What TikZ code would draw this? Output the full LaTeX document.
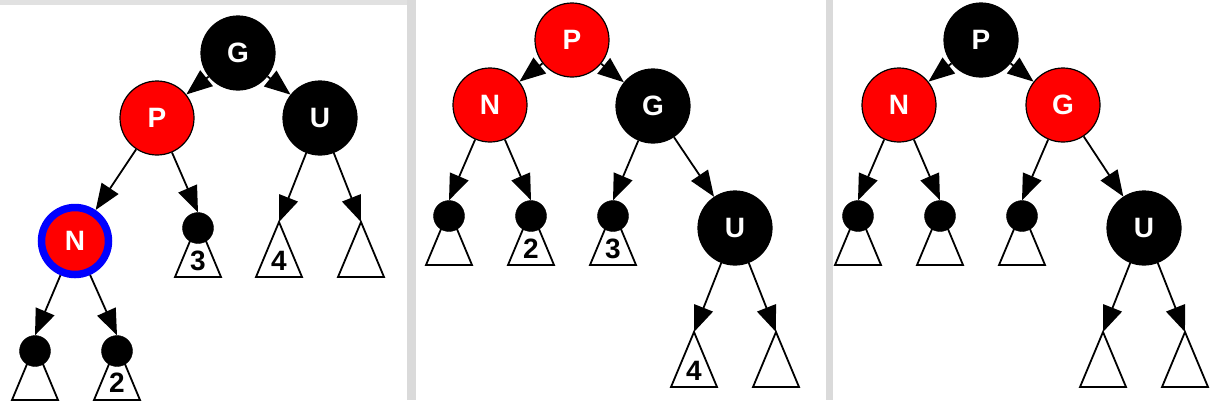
\documentclass[tikz,border=0pt]{standalone}
\usepackage{fontspec}
\setsansfont{Liberation Sans}
\usetikzlibrary{arrows.meta}
\definecolor{rbred}{RGB}{255,0,0}
\definecolor{rbblue}{RGB}{0,0,255}
\definecolor{bordergray}{RGB}{218,218,218}
\tikzset{
  rbnode/.style={circle, draw=black, line width=1.2pt, minimum size=74pt, inner sep=0pt,
     text=white, font=\sffamily\bfseries\fontsize{28}{28}\selectfont},
  blacknode/.style={rbnode, fill=black},
  rednode/.style={rbnode, fill=rbred},
  newnode/.style={circle, draw=rbblue, line width=7.5pt, fill=rbred, minimum size=67pt, inner sep=0pt,
     text=white, font=\sffamily\bfseries\fontsize{28}{28}\selectfont},
  leafdot/.style={circle, fill=black, draw=black, minimum size=31pt, inner sep=0pt},
  edge/.style={line width=1.8pt, -{Triangle[length=26pt,width=20pt]}},
  tri/.style={draw=black, line width=1.8pt, fill=white, line join=miter},
  trilabel/.style={font=\sffamily\bfseries\fontsize{28}{28}\selectfont, text=black, inner sep=0pt},
  subtree/.pic={\draw[tri] (0,0) -- (-23,55) -- (23,55) -- cycle;}
}
\begin{document}
\begin{tikzpicture}[x=1pt,y=-1pt]
\useasboundingbox (0,0) rectangle (1212,400);
\clip (0,0) rectangle (1212,400);
% panel borders
\fill[bordergray!80] (0,0) rectangle (407,5);
\fill[bordergray] (407,0) rectangle (416,400);
\fill[bordergray] (826,0) rectangle (833,400);

% ---------- panel 1 ----------
\node[blacknode] (aG) at (238,53) {G};
\node[rednode] (aP) at (157,118) {P};
\node[blacknode] (aU) at (320,118) {U};
\node[newnode] (aN) at (75,241) {N};
\pic at (198,222) {subtree};
\node[leafdot] (a3) at (198,228) {};
\node[trilabel] (a3l) at (198,261) {3};
\coordinate (a4) at (279,222);
\pic at (a4) {subtree};
\node[trilabel] (a4l) at (279,261) {4};
\coordinate (a5) at (361,222);
\pic at (a5) {subtree};
\pic at (35,345) {subtree};
\node[leafdot] (a1) at (35,351) {};
\pic at (117,345) {subtree};
\node[leafdot] (a2) at (117,351) {};
\node[trilabel] (a2l) at (117,383) {2};
\draw[edge] (aG) -- (aP);
\draw[edge] (aG) -- (aU);
\draw[edge] (aP) -- (aN);
\draw[edge] (aP) -- (a3.north);
\draw[edge] (aU) -- (a4);
\draw[edge] (aU) -- (a5);
\draw[edge] (aN) -- (a1.north);
\draw[edge] (aN) -- (a2.north);

% ---------- panel 2 ----------
\node[rednode] (bP) at (572,40) {P};
\node[rednode] (bN) at (490,105) {N};
\node[blacknode] (bG) at (653,106) {G};
\node[blacknode] (bU) at (735,228) {U};
\pic at (449,210) {subtree};
\node[leafdot] (b1) at (449,216) {};
\pic at (531,210) {subtree};
\node[leafdot] (b2) at (531,216) {};
\node[trilabel] (b2l) at (531,249) {2};
\pic at (613,210) {subtree};
\node[leafdot] (b3) at (613,216) {};
\node[trilabel] (b3l) at (613,249) {3};
\coordinate (b4) at (694,332);
\pic at (b4) {subtree};
\node[trilabel] (b4l) at (694,371) {4};
\coordinate (b5) at (776,332);
\pic at (b5) {subtree};
\draw[edge] (bP) -- (bN);
\draw[edge] (bP) -- (bG);
\draw[edge] (bN) -- (b1.north);
\draw[edge] (bN) -- (b2.north);
\draw[edge] (bG) -- (b3.north);
\draw[edge] (bG) -- (bU);
\draw[edge] (bU) -- (b4);
\draw[edge] (bU) -- (b5);

% ---------- panel 3 ----------
\node[blacknode] (cP) at (981,40) {P};
\node[rednode] (cN) at (899,105) {N};
\node[rednode] (cG) at (1063,105) {G};
\node[blacknode] (cU) at (1144,228) {U};
\pic at (858,210) {subtree};
\node[leafdot] (c1) at (858,216) {};
\pic at (940,210) {subtree};
\node[leafdot] (c2) at (940,216) {};
\pic at (1022,210) {subtree};
\node[leafdot] (c3) at (1022,216) {};
\coordinate (c4) at (1103,332);
\pic at (c4) {subtree};
\coordinate (c5) at (1185,332);
\pic at (c5) {subtree};
\draw[edge] (cP) -- (cN);
\draw[edge] (cP) -- (cG);
\draw[edge] (cN) -- (c1.north);
\draw[edge] (cN) -- (c2.north);
\draw[edge] (cG) -- (c3.north);
\draw[edge] (cG) -- (cU);
\draw[edge] (cU) -- (c4);
\draw[edge] (cU) -- (c5);
\end{tikzpicture}
\end{document}
